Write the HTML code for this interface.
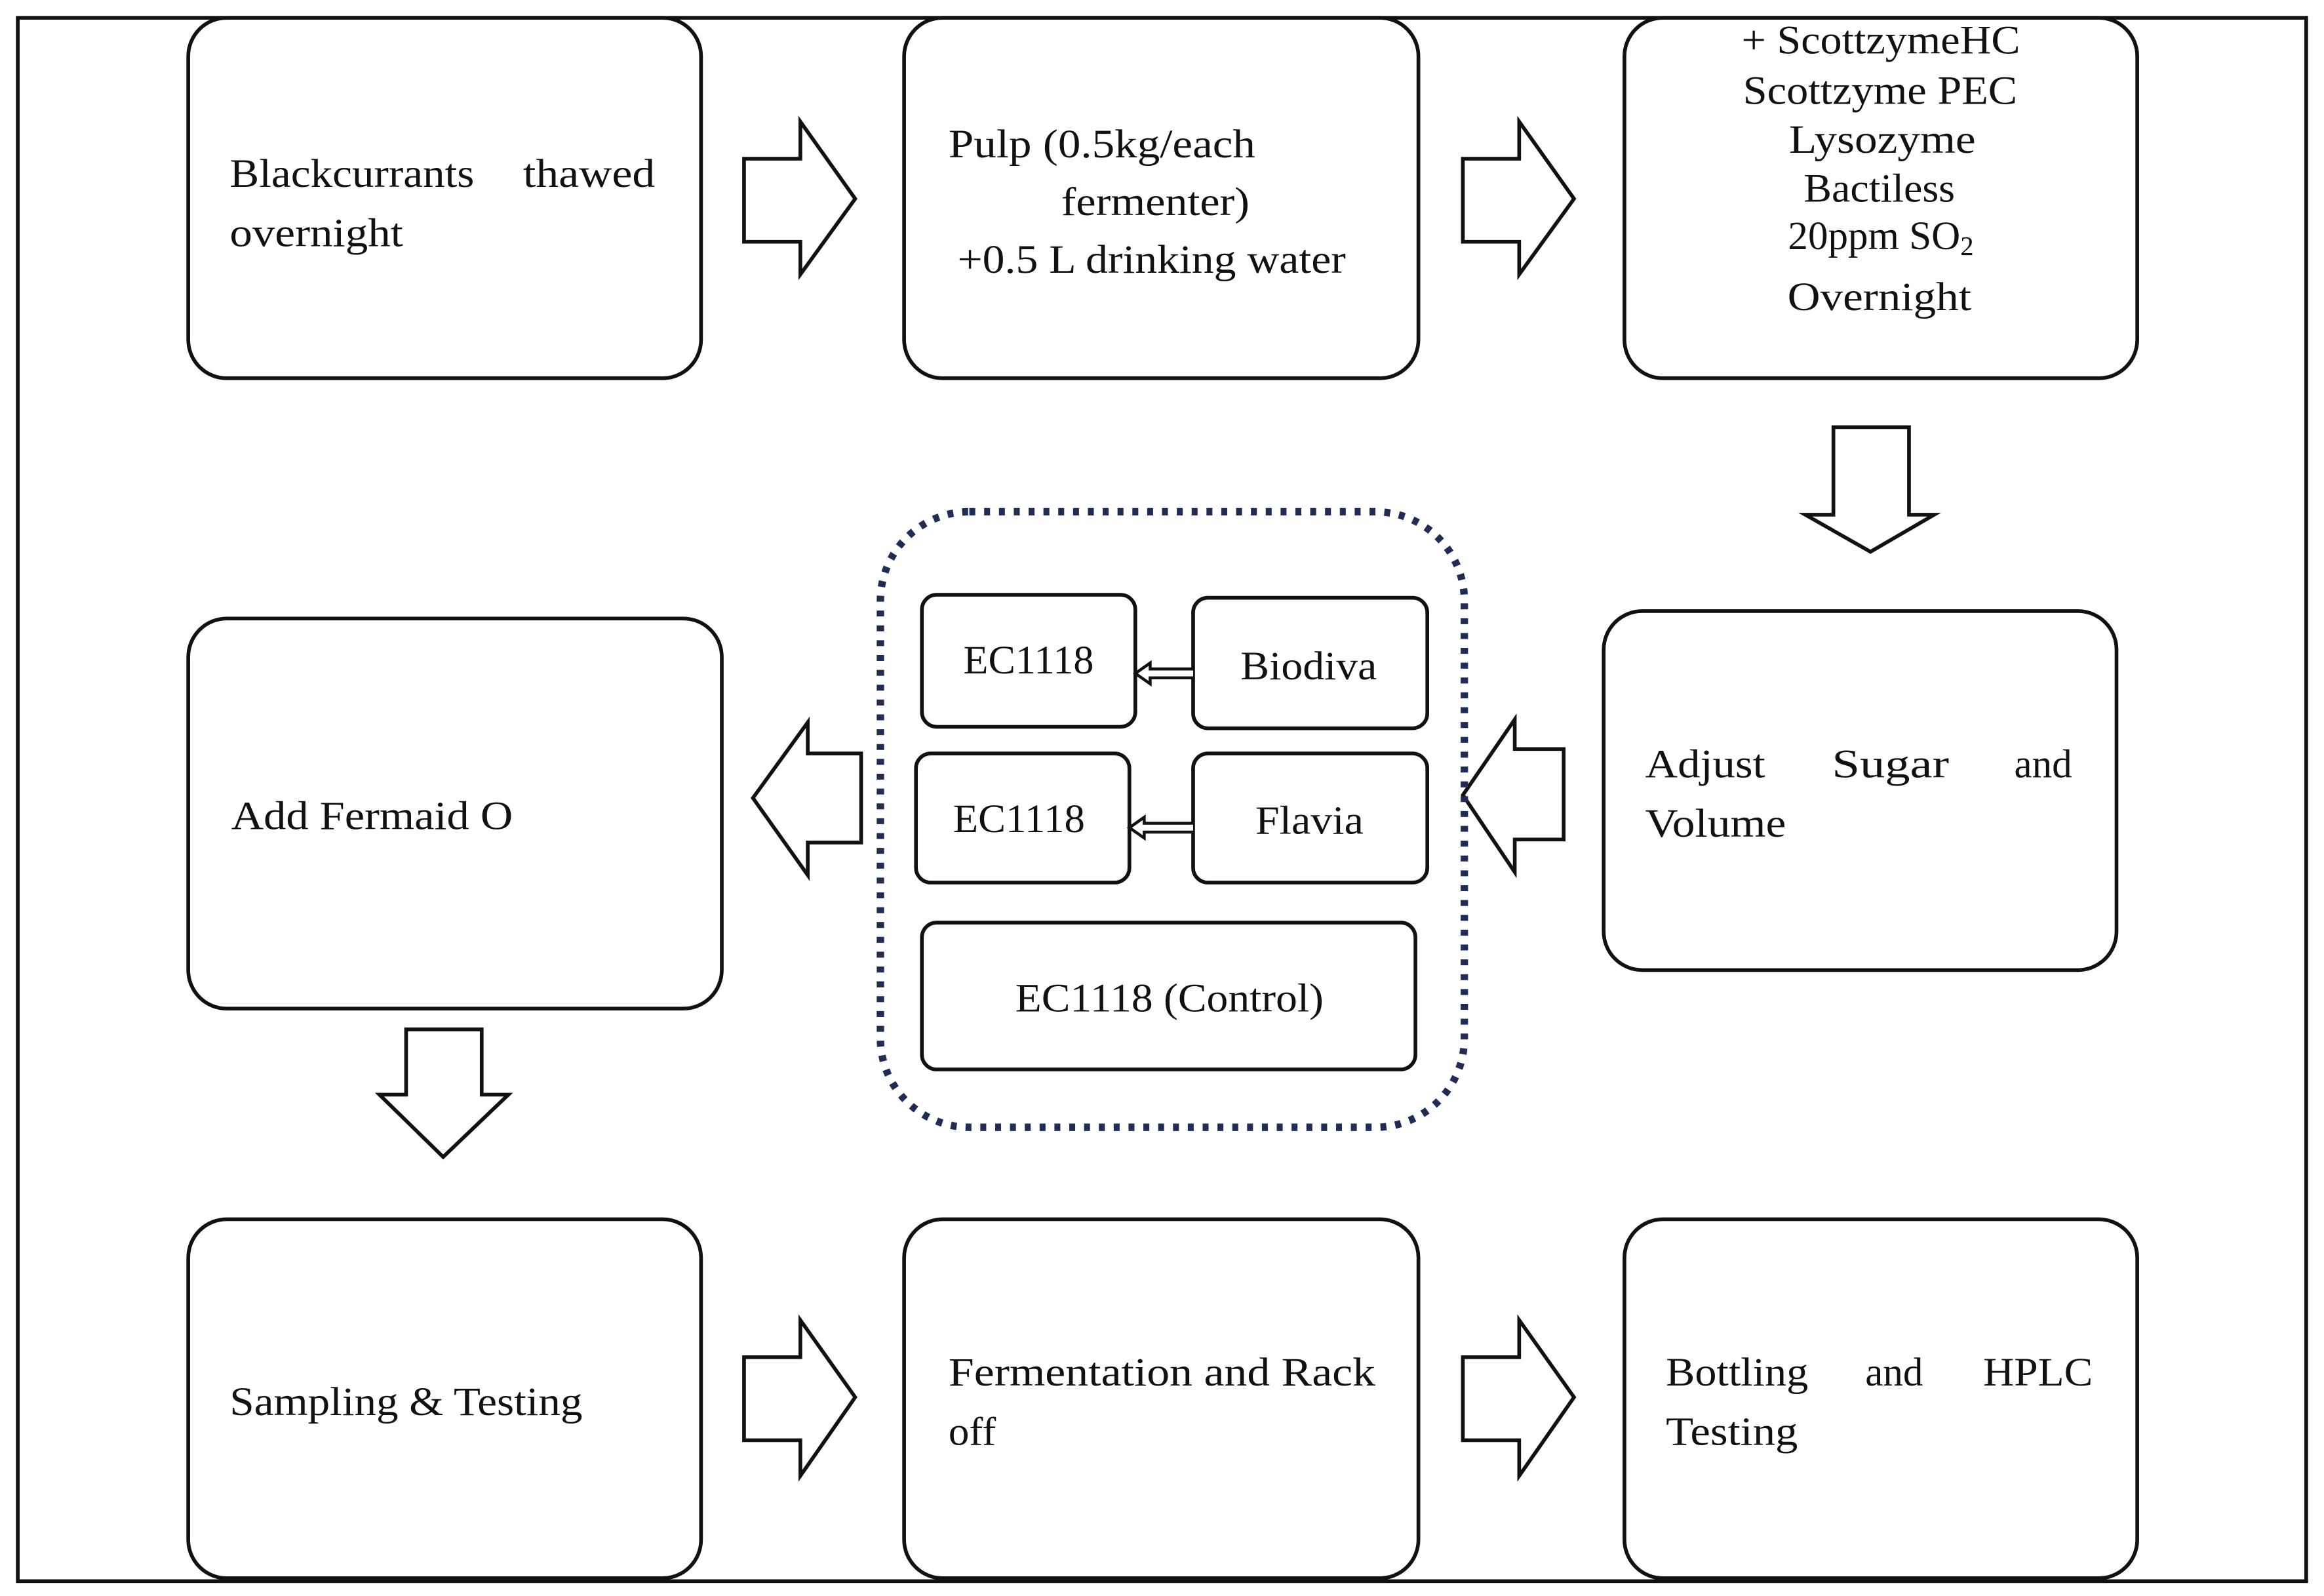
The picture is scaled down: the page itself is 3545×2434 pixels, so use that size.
<!DOCTYPE html>
<html><head><meta charset="utf-8"><style>
html,body{margin:0;padding:0;background:#fff}
svg{display:block}
text{font-family:"Liberation Serif",serif;font-size:27px;fill:#111}
</style></head><body>
<svg width="3545" height="2434" viewBox="0 0 1568 1076" preserveAspectRatio="none" xmlns="http://www.w3.org/2000/svg">
<rect x="0" y="0" width="1568" height="1076" fill="#fff"/>
<rect x="12" y="12" width="1544" height="1054" fill="none" stroke="#111" stroke-width="2.5"/>
<g fill="#fff" stroke="#111" stroke-width="2.5">
<rect x="127" y="12" width="346" height="243" rx="26"/>
<rect x="610" y="12" width="347" height="243" rx="26"/>
<rect x="1096" y="12" width="346" height="243" rx="26"/>
<rect x="127" y="417" width="360" height="263" rx="26"/>
<rect x="1082" y="412" width="346" height="242" rx="26"/>
<rect x="127" y="822" width="346" height="242" rx="26"/>
<rect x="610" y="822" width="347" height="242" rx="26"/>
<rect x="1096" y="822" width="346" height="242" rx="26"/>
<rect x="622" y="401" width="144" height="89" rx="10"/>
<rect x="805" y="403" width="158" height="88" rx="10"/>
<rect x="618" y="508" width="144" height="87" rx="10"/>
<rect x="805" y="508" width="158" height="87" rx="10"/>
<rect x="622" y="622" width="333" height="99" rx="10"/>
<path d="M502 107 H540 V82 L577 134 L540 185 V163 H502 Z"/>
<path d="M987 107 H1025 V82 L1062 134 L1025 185 V163 H987 Z"/>
<path d="M502 915 H540 V890 L577 942 L540 995 V971 H502 Z"/>
<path d="M987 915 H1025 V890 L1062 942 L1025 995 V971 H987 Z"/>
<path d="M1237 288 H1288 V347 H1305 L1262 372 L1218 347 H1237 Z"/>
<path d="M274 694 H325 V738 H343 L299 780 L256 738 H274 Z"/>
<path d="M581 508 H545 V487 L508 538 L545 590 V568 H581 Z"/>
<path d="M1055 505 H1022 V485 L987 536 L1022 588 V566 H1055 Z"/>
<path d="M805 451 H776 V447 L766 454 L776 461 V457 H805" stroke-width="2"/>
<path d="M805 555 H772 V551 L762 558 L772 565 V561 H805" stroke-width="2"/>
</g>
<rect x="594" y="345" width="394" height="415" rx="60" fill="none" stroke="#1f2d55" stroke-width="5" stroke-dasharray="4 6"/>
<g lengthAdjust="spacingAndGlyphs">
<text x="155" y="126" textLength="165" lengthAdjust="spacingAndGlyphs">Blackcurrants</text><text x="353" y="126" textLength="89" lengthAdjust="spacingAndGlyphs">thawed</text>
<text x="155" y="166" textLength="117" lengthAdjust="spacingAndGlyphs">overnight</text>
<text x="640" y="106" textLength="207" lengthAdjust="spacingAndGlyphs">Pulp (0.5kg/each</text>
<text x="716" y="145" textLength="127" lengthAdjust="spacingAndGlyphs">fermenter)</text>
<text x="646" y="184" textLength="262" lengthAdjust="spacingAndGlyphs">+0.5 L drinking water</text>
<text x="1175" y="36" textLength="188" lengthAdjust="spacingAndGlyphs">+ ScottzymeHC</text>
<text x="1176" y="70" textLength="185" lengthAdjust="spacingAndGlyphs">Scottzyme PEC</text>
<text x="1207" y="103" textLength="126" lengthAdjust="spacingAndGlyphs">Lysozyme</text>
<text x="1217" y="136" textLength="102" lengthAdjust="spacingAndGlyphs">Bactiless</text>
<text x="1269" y="168" text-anchor="middle">20ppm SO<tspan font-size="18" dy="4">2</tspan></text>
<text x="1206" y="209" textLength="124" lengthAdjust="spacingAndGlyphs">Overnight</text>
<text x="650" y="454" textLength="88" lengthAdjust="spacingAndGlyphs">EC1118</text>
<text x="837" y="458" textLength="92" lengthAdjust="spacingAndGlyphs">Biodiva</text>
<text x="643" y="561" textLength="89" lengthAdjust="spacingAndGlyphs">EC1118</text>
<text x="847" y="562" textLength="73" lengthAdjust="spacingAndGlyphs">Flavia</text>
<text x="685" y="682" textLength="208" lengthAdjust="spacingAndGlyphs">EC1118 (Control)</text>
<text x="156" y="559" textLength="190" lengthAdjust="spacingAndGlyphs">Add Fermaid O</text>
<text x="1110" y="524" textLength="81" lengthAdjust="spacingAndGlyphs">Adjust</text><text x="1236" y="524" textLength="79" lengthAdjust="spacingAndGlyphs">Sugar</text><text x="1398" y="524" text-anchor="end">and</text>
<text x="1110" y="564" textLength="95" lengthAdjust="spacingAndGlyphs">Volume</text>
<text x="155" y="954" textLength="238" lengthAdjust="spacingAndGlyphs">Sampling &amp; Testing</text>
<text x="640" y="934" textLength="288" lengthAdjust="spacingAndGlyphs">Fermentation and Rack</text>
<text x="640" y="974" textLength="32" lengthAdjust="spacingAndGlyphs">off</text>
<text x="1124" y="934" textLength="96" lengthAdjust="spacingAndGlyphs">Bottling</text><text x="1278" y="934" text-anchor="middle">and</text><text x="1338" y="934" textLength="74" lengthAdjust="spacingAndGlyphs">HPLC</text>
<text x="1124" y="974" textLength="89" lengthAdjust="spacingAndGlyphs">Testing</text>
</g>
</svg>
</body></html>
